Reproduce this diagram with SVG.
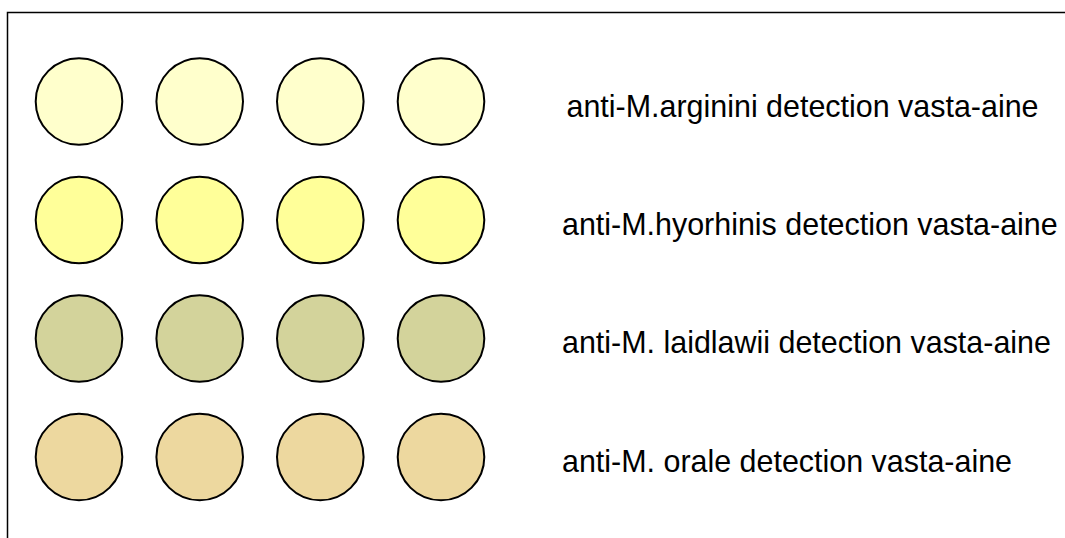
<svg xmlns="http://www.w3.org/2000/svg" width="1065" height="538" viewBox="0 0 1065 538">
  <style>
    .frame { fill: #ffffff; stroke: #000000; stroke-width: 1.5; }
    .dot { stroke: #000000; stroke-width: 2; }
    .r1 { fill: #ffffcc; }
    .r2 { fill: #ffff99; }
    .r3 { fill: #d3d39b; }
    .r4 { fill: #edd89f; }
    .label { font-family: "Liberation Sans", Arial, sans-serif; font-size: 30.45px; fill: #000000; }
  </style>
  <rect width="1065" height="538" fill="#ffffff"/>
  <!-- outer frame runs past the right and bottom edges -->
  <rect class="frame" x="7.5" y="12.5" width="1080" height="560"/>

  <g id="row-arginini">
    <circle class="dot r1" cx="79" cy="101.5" r="43.3"/>
    <circle class="dot r1" cx="199.7" cy="101.5" r="43.3"/>
    <circle class="dot r1" cx="320.3" cy="101.5" r="43.3"/>
    <circle class="dot r1" cx="441" cy="101.5" r="43.3"/>
    <text class="label" x="566.5" y="117">anti-M.arginini detection vasta-aine</text>
  </g>

  <g id="row-hyorhinis">
    <circle class="dot r2" cx="79" cy="220" r="43.3"/>
    <circle class="dot r2" cx="199.7" cy="220" r="43.3"/>
    <circle class="dot r2" cx="320.3" cy="220" r="43.3"/>
    <circle class="dot r2" cx="441" cy="220" r="43.3"/>
    <text class="label" x="562" y="235">anti-M.hyorhinis detection vasta-aine</text>
  </g>

  <g id="row-laidlawii">
    <circle class="dot r3" cx="79" cy="338.5" r="43.3"/>
    <circle class="dot r3" cx="199.7" cy="338.5" r="43.3"/>
    <circle class="dot r3" cx="320.3" cy="338.5" r="43.3"/>
    <circle class="dot r3" cx="441" cy="338.5" r="43.3"/>
    <text class="label" x="562" y="353">anti-M. laidlawii detection vasta-aine</text>
  </g>

  <g id="row-orale">
    <circle class="dot r4" cx="79" cy="457" r="43.3"/>
    <circle class="dot r4" cx="199.7" cy="457" r="43.3"/>
    <circle class="dot r4" cx="320.3" cy="457" r="43.3"/>
    <circle class="dot r4" cx="441" cy="457" r="43.3"/>
    <text class="label" x="562" y="472">anti-M. orale detection vasta-aine</text>
  </g>

  <g id="connectors"></g>
</svg>
